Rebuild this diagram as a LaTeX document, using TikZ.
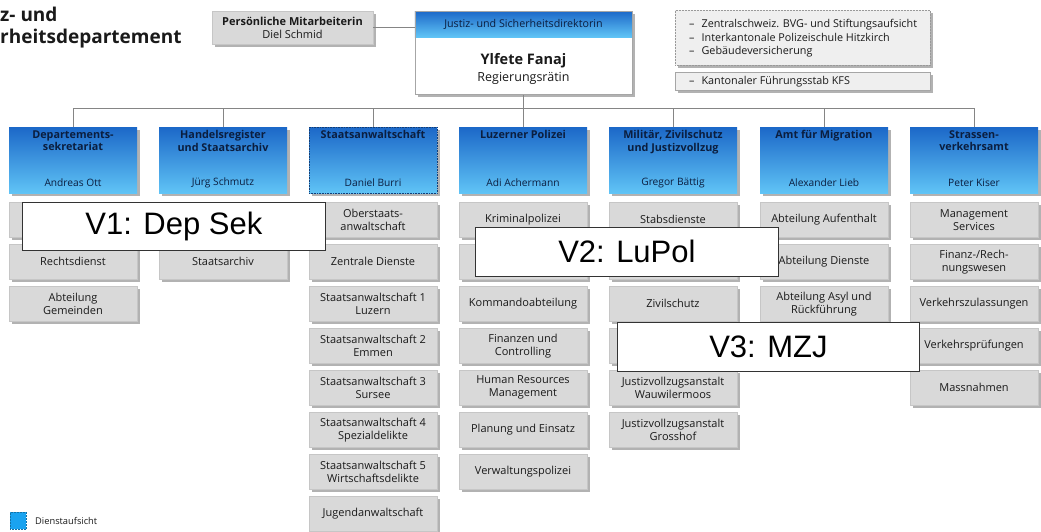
\documentclass[tikz,border=0pt]{standalone}
\usepackage{fontspec}
\setmainfont{Open Sans}
\newfontfamily\arialfont{Liberation Sans}
\usetikzlibrary{shadows}
\definecolor{subgray}{HTML}{D9D9D9}
\definecolor{subedge}{HTML}{C6C6C6}
\definecolor{hdrtop}{HTML}{1C68C8}
\definecolor{hdrbot}{HTML}{60C4F6}
\definecolor{linegray}{HTML}{858585}
\definecolor{txt}{HTML}{1A1A1A}
\definecolor{navy}{HTML}{0B1E3F}
\definecolor{lightbox}{HTML}{EFEFEF}
\definecolor{legblue}{HTML}{1AA3F0}
\tikzset{
 shad/.style={drop shadow={shadow xshift=2.5pt, shadow yshift=-3pt, opacity=0.3, fill=black}},
 subbox/.style={rectangle, anchor=north, minimum width=128pt, minimum height=35pt, inner sep=1pt,
   fill=subgray, draw=subedge, line width=0.4pt, align=center, text=txt,
   font=\fontsize{11}{13}\selectfont, shad},
 hdrbox/.style={rectangle, anchor=north, minimum width=128pt, minimum height=66pt, inner sep=0pt,
   top color=hdrtop, bottom color=hdrbot, shad},
 hdrtitle/.style={anchor=north, align=center, font=\fontsize{10.8}{12.2}\selectfont\bfseries, text=navy, inner sep=0pt},
 hdrname/.style={anchor=center, font=\fontsize{10.2}{12}\selectfont, text=navy, inner sep=0pt},
 conn/.style={draw=linegray, line width=0.8pt},
 vlabel/.style={rectangle, fill=white, draw=black!80, line width=0.8pt, anchor=north west,
   font=\arialfont\fontsize{31}{31}\selectfont, inner sep=0pt, text=black},
}
\begin{document}
\begin{tikzpicture}[x=1pt,y=-1pt]
\useasboundingbox[fill=white] (0,0) rectangle (1041,531);
\coordinate (bus) at (0,108);

% title
\node[anchor=base west, inner sep=0pt, font=\fontsize{19}{22}\selectfont\bfseries, text=txt] (t1) at (0,21) {z- und};
\node[anchor=base west, inner sep=0pt, font=\fontsize{19}{22}\selectfont\bfseries, text=txt] (t2) at (0,43) {rheitsdepartement};

% persoenliche mitarbeiterin
\node[rectangle, minimum width=161pt, minimum height=33pt, inner sep=0pt, fill=subgray, draw=subedge,
  line width=0.4pt, shad, align=center, text=txt, font=\fontsize{11}{13}\selectfont] (pm) at (292.5,27.5)
  {\textbf{Persönliche Mitarbeiterin}\\Diel Schmid};

% director
\node[rectangle, anchor=north, minimum width=217pt, minimum height=83pt, inner sep=0pt, fill=white,
  draw=black!35, line width=0.5pt, shad] (dir) at (523.5,11) {};
\path[top color=hdrtop, bottom color=hdrbot] (dir.north west) rectangle ([yshift=-26pt]dir.north east);
\draw[black!35, line width=0.5pt] (dir.north west) rectangle (dir.south east);
\node[font=\fontsize{10.7}{12}\selectfont, text=navy, inner sep=0pt] (dirh) at (523.5,24) {Justiz- und Sicherheitsdirektorin};
\node[font=\fontsize{14.5}{16}\selectfont\bfseries, text=txt, inner sep=0pt] (dirn) at (523.5,61) {Ylfete Fanaj};
\node[font=\fontsize{12.5}{14}\selectfont, text=txt, inner sep=0pt] (dirr) at (523.5,78) {Regierungsrätin};

\draw[conn] (pm.east) -- (pm.east -| dir.west);

% top right boxes
\node[rectangle, minimum width=255pt, minimum height=55pt, inner sep=0pt, fill=lightbox, draw=black!40,
  densely dotted, line width=0.5pt, shad] (tr1) at (802.5,37.5) {};
\node[anchor=west, inner sep=0pt, align=left, text=txt, font=\fontsize{10.8}{13.5}\selectfont] (tr1t) at (689,38.5)
  {\begin{tabular}{@{}l@{\hspace{7pt}}l@{}}–&Zentralschweiz. BVG- und Stiftungsaufsicht\\–&Interkantonale Polizeischule Hitzkirch\\–&Gebäudeversicherung\end{tabular}};
\node[rectangle, minimum width=255pt, minimum height=18pt, inner sep=0pt, fill=lightbox, draw=black!35,
  line width=0.5pt, shad] (tr2) at (802.5,81) {};
\node[anchor=west, inner sep=0pt, text=txt, font=\fontsize{10.8}{12}\selectfont] (tr2t) at (689,81.5)
  {–\hspace{7pt}Kantonaler Führungsstab KFS};

% department headers
\node[hdrbox] (h0) at (73,127) {};
\node[hdrbox] (h1) at (223,127) {};
\node[hdrbox, draw=hdrtop!60!black, densely dotted, line width=0.6pt] (h2) at (373,127) {};
\node[hdrbox] (h3) at (523,127) {};
\node[hdrbox] (h4) at (673,127) {};
\node[hdrbox] (h5) at (824,127) {};
\node[hdrbox] (h6) at (974,127) {};

\node[hdrtitle] (h0t) at (73,130.5) {Departements-\\sekretariat};
\node[hdrtitle] (h1t) at (223,130.5) {Handelsregister\\und Staatsarchiv};
\node[hdrtitle] (h2t) at (373,130.5) {Staatsanwaltschaft};
\node[hdrtitle] (h3t) at (523,130.5) {Luzerner Polizei};
\node[hdrtitle] (h4t) at (673,130.5) {Militär, Zivilschutz\\und Justizvollzug};
\node[hdrtitle] (h5t) at (824,130.5) {Amt für Migration};
\node[hdrtitle] (h6t) at (974,130.5) {Strassen-\\verkehrsamt};

\node[hdrname] (h0n) at (73,182.5) {Andreas Ott};
\node[hdrname] (h1n) at (223,182.5) {Jürg Schmutz};
\node[hdrname] (h2n) at (373,182.5) {Daniel Burri};
\node[hdrname] (h3n) at (523,182.5) {Adi Achermann};
\node[hdrname] (h4n) at (673,182.5) {Gregor Bättig};
\node[hdrname] (h5n) at (824,182.5) {Alexander Lieb};
\node[hdrname] (h6n) at (974,182.5) {Peter Kiser};

% connectors
\draw[conn] (dir.south) -- (dir.south |- bus);
\draw[conn] (h0.north |- bus) -- (h6.north |- bus);
\foreach \h in {h0,h1,h2,h3,h4,h5,h6} { \draw[conn] (\h.north |- bus) -- (\h.north); }

% column 0
\node[subbox] (s01) at (73,202) {};
\node[subbox] (s02) at (73,244) {Rechtsdienst};
\node[subbox] (s03) at (73,286) {Abteilung\\Gemeinden};
% column 1
\node[subbox] (s11) at (223,202) {};
\node[subbox] (s12) at (223,244) {Staatsarchiv};
% column 2
\node[subbox] (s21) at (373,202) {Oberstaats-\\anwaltschaft};
\node[subbox] (s22) at (373,244) {Zentrale Dienste};
\node[subbox] (s23) at (373,286) {Staatsanwaltschaft 1\\Luzern};
\node[subbox] (s24) at (373,328) {Staatsanwaltschaft 2\\Emmen};
\node[subbox] (s25) at (373,370) {Staatsanwaltschaft 3\\Sursee};
\node[subbox] (s26) at (373,412) {Staatsanwaltschaft 4\\Spezialdelikte};
\node[subbox] (s27) at (373,454) {Staatsanwaltschaft 5\\Wirtschaftsdelikte};
\node[subbox] (s28) at (373,496) {Jugendanwaltschaft};
% column 3
\node[subbox] (s31) at (523,202) {Kriminalpolizei};
\node[subbox] (s32) at (523,244) {};
\node[subbox] (s33) at (523,286) {Kommandoabteilung};
\node[subbox] (s34) at (523,328) {Finanzen und\\Controlling};
\node[subbox] (s35) at (523,370) {Human Resources\\Management};
\node[subbox] (s36) at (523,412) {Planung und Einsatz};
\node[subbox] (s37) at (523,454) {Verwaltungspolizei};
% column 4
\node[subbox] (s41) at (673,202) {Stabsdienste};
\node[subbox] (s42) at (673,244) {};
\node[subbox] (s43) at (673,286) {Zivilschutz};
\node[subbox] (s44) at (673,328) {};
\node[subbox] (s45) at (673,370) {Justizvollzugsanstalt\\Wauwilermoos};
\node[subbox] (s46) at (673,412) {Justizvollzugsanstalt\\Grosshof};
% column 5
\node[subbox] (s51) at (824,202) {Abteilung Aufenthalt};
\node[subbox] (s52) at (824,244) {Abteilung Dienste};
\node[subbox] (s53) at (824,286) {Abteilung Asyl und\\Rückführung};
% column 6
\node[subbox] (s61) at (974,202) {Management\\Services};
\node[subbox] (s62) at (974,244) {Finanz-/Rech-\\nungswesen};
\node[subbox] (s63) at (974,286) {Verkehrszulassungen};
\node[subbox] (s64) at (974,328) {Verkehrsprüfungen};
\node[subbox] (s65) at (974,370) {Massnahmen};

% legend
\node[rectangle, anchor=north west, minimum width=16pt, minimum height=17pt, inner sep=0pt, fill=legblue,
  draw=legblue!70!black, densely dotted, line width=0.5pt] (leg) at (10,512) {};
\node[anchor=west, inner sep=0pt, text=txt, font=\fontsize{9.3}{11}\selectfont] (legt) at (35,521) {Dienstaufsicht};

% overlay labels
\node[vlabel, minimum width=303pt, minimum height=48pt] (v1) at (22,202) {V1: Dep Sek};
\node[vlabel, minimum width=303pt, minimum height=49pt] (v2) at (475,227) {V2: LuPol};
\node[vlabel, minimum width=302pt, minimum height=49pt] (v3) at (617,322) {V3: MZJ};
\end{tikzpicture}
\end{document}
